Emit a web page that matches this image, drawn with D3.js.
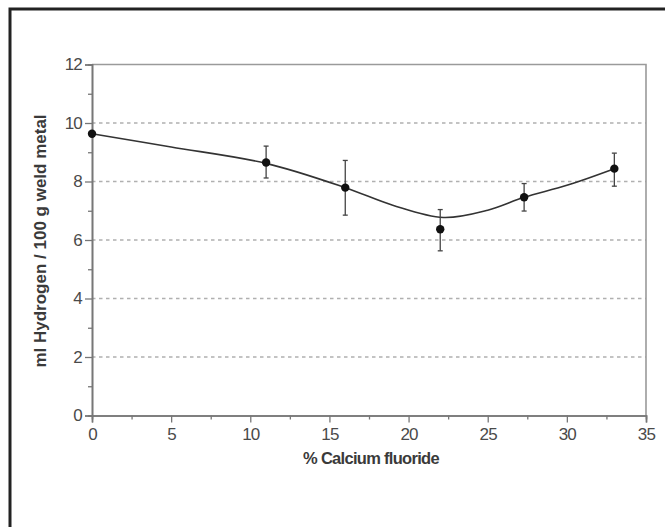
<!DOCTYPE html>
<html><head><meta charset="utf-8">
<script src="https://cdn.jsdelivr.net/npm/d3@7"></script>
<style>
html,body{margin:0;padding:0;background:#fff;}
svg{display:block;}
text{font-family:"Liberation Sans",Arial,sans-serif;}
</style></head>
<body>
<svg id="chart" width="665" height="527"></svg>
<script>
// Data
const xCalcium = [0, 11, 16, 22, 27.3, 33];
const hydrogen = [9.63, 8.65, 7.79, 6.37, 7.46, 8.44];
const errLow  = [null, 8.12, 6.85, 5.63, 6.99, 7.84];
const errHigh = [null, 9.21, 8.72, 7.04, 7.93, 8.97];
const curveX = [0, 5, 11, 16, 19, 22.2, 25, 27.3, 30, 33];
const curveY = [9.63, 9.18, 8.62, 7.79, 7.19, 6.77, 7.02, 7.46, 7.87, 8.44];
const xTicks = [0, 5, 10, 15, 20, 25, 30, 35];
const xMinor = [2.5, 7.5, 12.5, 17.5, 22.5, 27.5, 32.5];
const yTicks = [0, 2, 4, 6, 8, 10, 12];
const yMinor = [1, 3, 5, 7, 9, 11];
const gridY = [2, 4, 6, 8, 10];
const xLabel = "% Calcium fluoride";
const yLabel = "ml Hydrogen / 100 g weld metal";

const svg = d3.select("#chart");
const x = d3.scaleLinear().domain([0, 35]).range([92, 646]);
const y = d3.scaleLinear().domain([0, 12]).range([415.5, 64.5]);

// outer frame (only left and top visible)
svg.append("rect").attr("x", 10).attr("y", 9).attr("width", 800).attr("height", 700)
  .attr("fill", "none").attr("stroke", "#222").attr("stroke-width", 3);

// grid
svg.append("g").selectAll("line").data(gridY).join("line")
  .attr("x1", x(0)).attr("x2", x(35)).attr("y1", d => y(d)).attr("y2", d => y(d))
  .attr("stroke", "#b0b0b0").attr("stroke-width", 1.4).attr("stroke-dasharray", "3.5,3.5");

// top and right border
svg.append("path").attr("d", `M${x(0)},${y(12)}H${x(35)}V${y(0)}`)
  .attr("fill", "none").attr("stroke", "#9a9a9a").attr("stroke-width", 1.6);

// axes
const xAxis = svg.append("g").attr("transform", `translate(0,${y(0)})`)
  .call(d3.axisBottom(x).tickValues(xTicks).tickSize(7).tickPadding(5).tickFormat(d3.format("d")));
const xAxisMinor = svg.append("g").attr("transform", `translate(0,${y(0)})`)
  .call(d3.axisBottom(x).tickValues(xMinor).tickSize(4).tickFormat(""));
const yAxis = svg.append("g").attr("transform", `translate(${x(0)},0)`)
  .call(d3.axisLeft(y).tickValues(yTicks).tickSize(7).tickPadding(3).tickFormat(d3.format("d")));
const yAxisMinor = svg.append("g").attr("transform", `translate(${x(0)},0)`)
  .call(d3.axisLeft(y).tickValues(yMinor).tickSize(4).tickFormat(""));
[xAxis, xAxisMinor, yAxis, yAxisMinor].forEach(g => {
  g.selectAll(".domain").attr("stroke", "#777").attr("stroke-width", 1.6);
  g.selectAll(".tick line").attr("stroke", "#777").attr("stroke-width", 1.3);
  g.selectAll(".tick text").attr("fill", "#4a4a4a").attr("font-size", 17)
    .attr("letter-spacing", "-0.8")
    .attr("font-family", "'Liberation Sans',Arial,sans-serif");
});

// axis titles
svg.append("text").attr("x", 371).attr("y", 464).attr("text-anchor", "middle")
  .attr("font-size", 16.5).attr("font-weight", "bold").attr("fill", "#3a3a3a")
  .attr("letter-spacing", "-0.7").text(xLabel);
svg.append("text").attr("transform", `translate(46,241) rotate(-90)`)
  .attr("text-anchor", "middle").attr("font-size", 17).attr("font-weight", "bold")
  .attr("fill", "#3a3a3a").text(yLabel);

// fitted curve
const curvePts = curveX.map((d, i) => [d, curveY[i]]);
svg.append("path").datum(curvePts)
  .attr("d", d3.line().x(d => x(d[0])).y(d => y(d[1])).curve(d3.curveCatmullRom.alpha(0.5)))
  .attr("fill", "none").attr("stroke", "#333").attr("stroke-width", 1.6);

// error bars
const pts = xCalcium.map((d, i) => ({x: d, y: hydrogen[i], lo: errLow[i], hi: errHigh[i]}));
const eb = svg.append("g").selectAll("g").data(pts.filter(d => d.lo != null)).join("g");
eb.append("line").attr("x1", d => x(d.x)).attr("x2", d => x(d.x))
  .attr("y1", d => y(d.lo)).attr("y2", d => y(d.hi)).attr("stroke", "#444").attr("stroke-width", 1.3);
eb.append("line").attr("x1", d => x(d.x) - 2.5).attr("x2", d => x(d.x) + 2.5)
  .attr("y1", d => y(d.hi)).attr("y2", d => y(d.hi)).attr("stroke", "#444").attr("stroke-width", 1.3);
eb.append("line").attr("x1", d => x(d.x) - 2.5).attr("x2", d => x(d.x) + 2.5)
  .attr("y1", d => y(d.lo)).attr("y2", d => y(d.lo)).attr("stroke", "#444").attr("stroke-width", 1.3);

// points
svg.append("g").selectAll("circle").data(pts).join("circle")
  .attr("cx", d => x(d.x)).attr("cy", d => y(d.y)).attr("r", 4.2).attr("fill", "#111");
</script>
</body></html>
